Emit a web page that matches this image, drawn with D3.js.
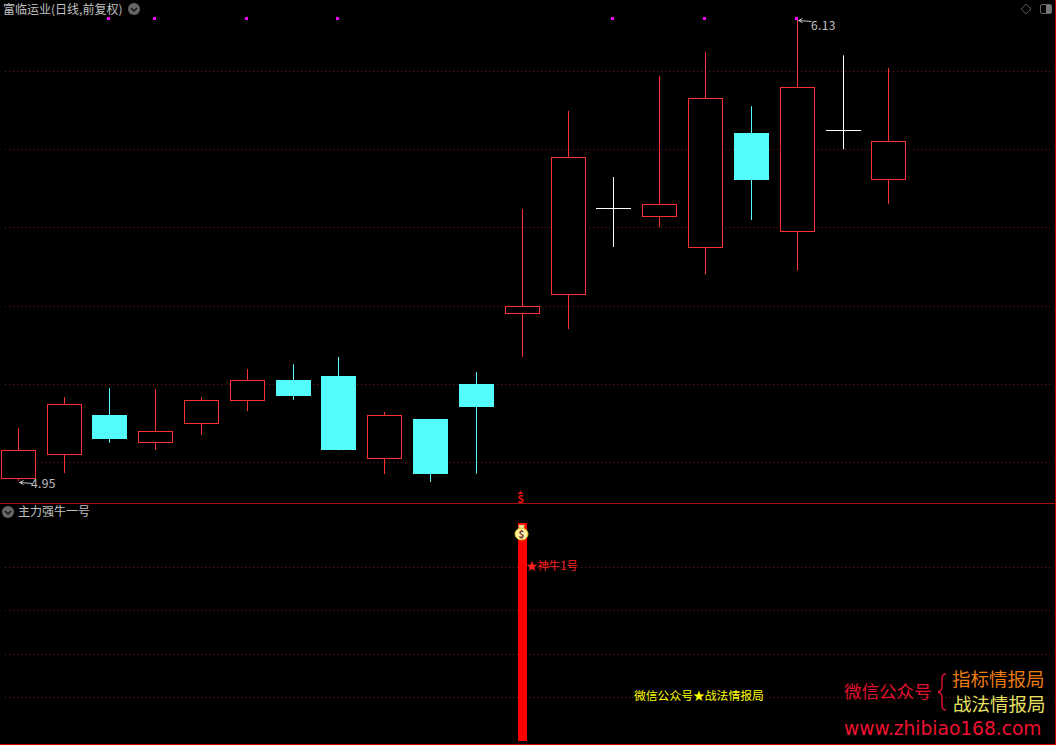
<!DOCTYPE html>
<html>
<head>
<meta charset="utf-8">
<script src="https://cdn.jsdelivr.net/npm/d3@7"></script>
<style>
  html, body { margin: 0; padding: 0; background: #000; overflow: hidden; }
  svg { display: block; }
  text { font-family: "Noto Sans CJK SC", "Noto Sans", sans-serif; }
</style>
</head>
<body>
<div id="container"></div>
<script>
/* DATA */
const days   = d3.range(20);
const opens  = [4.957, 5.018, 5.120, 5.049, 5.097, 5.156, 5.210, 5.220, 5.008, 5.110, 5.200, 5.379, 5.427, 5.650, 5.627, 5.547, 5.841, 5.588, 5.849, 5.719];
const closes = [5.031, 5.148, 5.059, 5.079, 5.159, 5.210, 5.169, 5.030, 5.120, 4.970, 5.140, 5.399, 5.780, 5.650, 5.660, 5.930, 5.721, 5.960, 5.849, 5.820];
const highs  = [5.087, 5.166, 5.189, 5.187, 5.166, 5.238, 5.250, 5.269, 5.128, 5.110, 5.230, 5.647, 5.898, 5.729, 5.987, 6.049, 5.910, 6.130, 6.040, 6.008];
const lows   = [4.951, 4.972, 5.049, 5.031, 5.069, 5.130, 5.159, 5.030, 4.969, 4.949, 4.970, 5.269, 5.340, 5.550, 5.600, 5.480, 5.619, 5.490, 5.800, 5.660];
const dojis  = [13, 18];
const markerDays = [2, 3, 5, 7, 13, 15, 17];
const priceGrid  = [5.0, 5.2, 5.4, 5.6, 5.8, 6.0];

const signalDay    = 11;
const signalValue  = 1;
const signalGrid   = [0.2, 0.4, 0.6, 0.8];

const width = 1056, height = 745;
const red = "#ff3232", cyan = "#54fcfc", gridColor = "#7a1818", labelColor = "#c0c0c0";

const svg = d3.select("#container").append("svg")
  .attr("width", width)
  .attr("height", height)
  .style("background", "#000");

/* SCALES */
const xScale = d3.scaleBand()
  .domain(days)
  .range([-5.05, 911.55])
  .paddingInner(0.25)
  .paddingOuter(0.125);
const candleW = 34;
const xLeft = d => Math.round(xScale(d));
const xMid = d => xLeft(d) + candleW / 2 + 0.5;

const yPrice = d3.scaleLinear().domain([5, 6]).range([462, 71]);
const ySignal = d3.scaleLinear().domain([0, 1]).range([741, 523]);

/* GRID */
const drawGrid = (values, scale) => svg.append("g")
  .selectAll("line")
  .data(values)
  .join("line")
  .attr("x1", 5)
  .attr("x2", 1052)
  .attr("y1", d => Math.round(scale(d)) + 0.5)
  .attr("y2", d => Math.round(scale(d)) + 0.5)
  .attr("stroke", gridColor)
  .attr("stroke-dasharray", "1 3");
drawGrid(priceGrid, yPrice);
drawGrid(signalGrid, ySignal);

/* frame and panel divider */
svg.append("line").attr("x1", 0).attr("x2", width).attr("y1", 503.5).attr("y2", 503.5).attr("stroke", "#a01010");
svg.append("line").attr("x1", 0).attr("x2", width).attr("y1", 744.5).attr("y2", 744.5).attr("stroke", "#c80000");
svg.append("line").attr("x1", 1055.5).attr("x2", 1055.5).attr("y1", 0).attr("y2", height).attr("stroke", "#c80000");

/* CANDLES */
const candleColor = d => dojis.includes(d) ? "#fff" : (closes[d] >= opens[d] ? red : cyan);
const candles = svg.append("g").selectAll("g").data(days).join("g");

candles.append("line")
  .attr("x1", xMid)
  .attr("x2", xMid)
  .attr("y1", d => yPrice(highs[d]))
  .attr("y2", d => yPrice(lows[d]))
  .attr("stroke", candleColor);

candles.filter(d => dojis.includes(d)).append("line")
  .attr("x1", d => xLeft(d))
  .attr("x2", d => xLeft(d) + candleW + 1)
  .attr("y1", d => Math.round(yPrice(closes[d])) + 0.5)
  .attr("y2", d => Math.round(yPrice(closes[d])) + 0.5)
  .attr("stroke", "#fff");

candles.filter(d => !dojis.includes(d)).append("rect")
  .attr("x", d => xLeft(d) + 0.5)
  .attr("y", d => Math.round(yPrice(Math.max(opens[d], closes[d]))) + 0.5)
  .attr("width", candleW)
  .attr("height", d => Math.round(Math.abs(yPrice(opens[d]) - yPrice(closes[d]))) - 1)
  .attr("fill", d => closes[d] >= opens[d] ? "#000" : cyan)
  .attr("stroke", candleColor);

/* magenta markers along the top */
svg.append("g").selectAll("rect")
  .data(markerDays)
  .join("rect")
  .attr("x", d => xMid(d) - 2.5)
  .attr("y", 17)
  .attr("width", 3)
  .attr("height", 3)
  .attr("fill", "#ff00ff");

/* high / low labels */
const hiDay = d3.greatestIndex(highs), loDay = 0;
const arrow = (x, y) => svg.append("path")
  .attr("d", `M${x},${y} l13,1 M${x},${y} l4,-2 M${x},${y} l4,2`)
  .attr("fill", "none")
  .attr("stroke", labelColor);
arrow(xMid(loDay) + 1, 482.5);
arrow(xMid(hiDay) + 1, 20.5);
svg.append("text").attr("x", 31).attr("y", 488).attr("font-size", 12).attr("letter-spacing", 0.4).attr("fill", labelColor).text("4.95");
svg.append("text").attr("x", 811).attr("y", 30).attr("font-size", 12).attr("letter-spacing", 0.4).attr("fill", labelColor).text("6.13");

/* SIGNAL PANEL */
const barW = 9;
svg.append("rect")
  .attr("x", xMid(signalDay) - 4.5)
  .attr("y", ySignal(signalValue))
  .attr("width", barW)
  .attr("height", ySignal(0) - ySignal(signalValue))
  .attr("fill", "#ff0000");

/* S mark above divider */
svg.append("text").attr("x", 520.5).attr("y", 503).attr("text-anchor", "middle").attr("font-size", 10).attr("font-weight", 700).attr("fill", "#f01010").text("S");
svg.append("path").attr("d", "M520.5,491 l3,3 h-6 z").attr("fill", "#f01010");

/* money bag */
const bag = svg.append("g").attr("transform", "translate(521.5,534)");
bag.append("path").attr("d", "M-3,-9 h6 l-1,4 h-4 z").attr("fill", "#f4e8b0").attr("stroke", "#c9a030").attr("stroke-width", 0.6);
bag.append("ellipse").attr("cx", 0).attr("cy", 0).attr("rx", 6.5).attr("ry", 6).attr("fill", "#fff2a0").attr("stroke", "#e0c020");
bag.append("text").attr("x", 0).attr("y", 3.5).attr("text-anchor", "middle").attr("font-size", 10).attr("font-weight", 700).attr("fill", "#7a3030").text("$");

svg.append("text").attr("x", 526).attr("y", 570).attr("font-size", 11.4).attr("fill", "#ff2020").text("★神牛1号");
svg.append("text").attr("x", 634).attr("y", 700).attr("font-size", 11.8).attr("fill", "#ffff00").text("微信公众号★战法情报局");

/* watermark */
svg.append("text").attr("x", 844).attr("y", 698).attr("font-size", 17.5).attr("fill", "#e01030").text("微信公众号");
svg.append("text").attr("x", 952).attr("y", 686).attr("font-size", 18.5).attr("fill", "#e87a10").text("指标情报局");
svg.append("text").attr("x", 953).attr("y", 711).attr("font-size", 18.5).attr("fill", "#e8e060").text("战法情报局");
svg.append("path")
  .attr("d", "M946,674 q-4,0 -4,5 v7 q0,5 -4,6 q4,1 4,6 v7 q0,5 4,5")
  .attr("fill", "none")
  .attr("stroke", "#e01030")
  .attr("stroke-width", 1.4);
svg.append("text").attr("x", 844).attr("y", 735).attr("font-size", 18.6).style("font-family", "'DejaVu Sans', sans-serif").attr("fill", "#f01030").text("www.zhibiao168.com");

/* HEADERS */
const dropIcon = (cx, cy) => {
  svg.append("circle").attr("cx", cx).attr("cy", cy).attr("r", 6).attr("fill", "#666");
  svg.append("path").attr("d", `M${cx - 3},${cy - 1} l3,3 l3,-3`).attr("fill", "none").attr("stroke", "#111").attr("stroke-width", 1.3);
};
svg.append("text").attr("x", 3).attr("y", 14).attr("font-size", 12).attr("fill", labelColor).text("富临运业(日线,前复权)");
dropIcon(134, 9);
svg.append("text").attr("x", 18).attr("y", 516).attr("font-size", 12).attr("fill", labelColor).text("主力强牛一号");
dropIcon(8, 512);

/* top right icons */
svg.append("path").attr("d", "M1026,4 l5,5 l-5,5 l-5,-5 z").attr("fill", "none").attr("stroke", "#555");
svg.append("rect").attr("x", 1040.5).attr("y", 4.5).attr("width", 11).attr("height", 9).attr("rx", 1.5).attr("fill", "none").attr("stroke", "#666");
svg.append("rect").attr("x", 1046).attr("y", 5).attr("width", 5).attr("height", 8).attr("fill", "#777");
</script>
</body>
</html>
